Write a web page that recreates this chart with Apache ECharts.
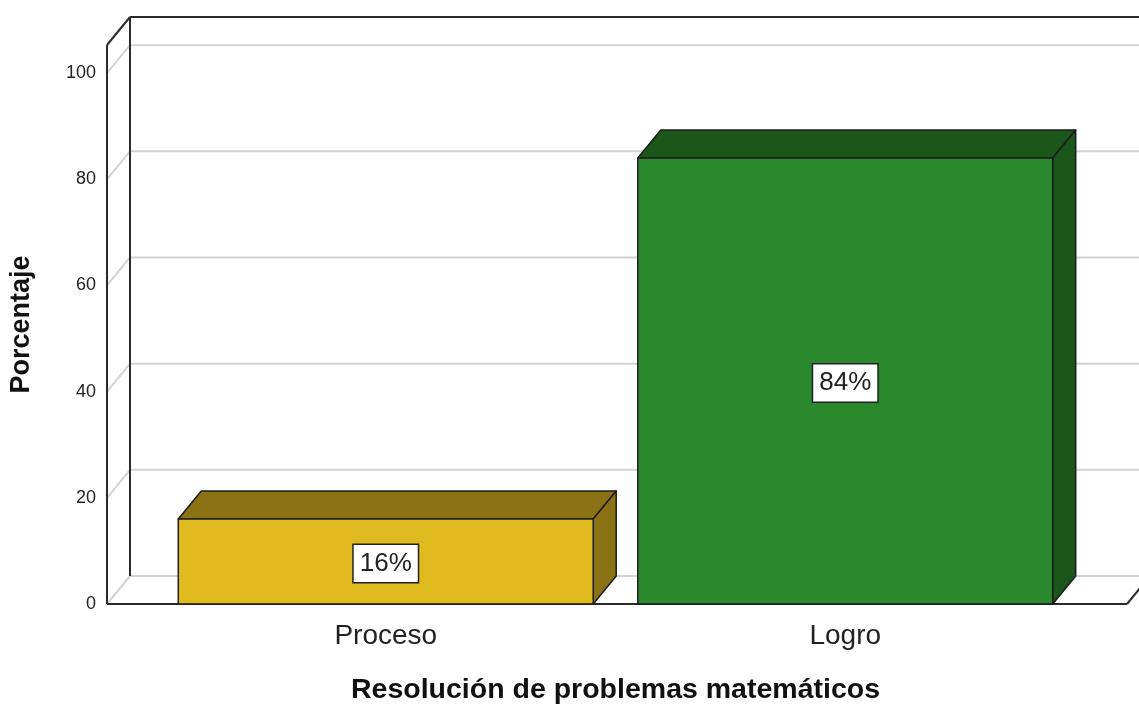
<!DOCTYPE html>
<html>
<head>
<meta charset="utf-8">
<script src="https://cdn.jsdelivr.net/npm/echarts@6/dist/echarts.min.js"></script>
<style>
  html, body { margin: 0; padding: 0; background: #fff; }
  #chart { width: 1139px; height: 704px; }
</style>
</head>
<body>
<div id="chart"></div>
<script>
// Data
const categories = ['Proceso', 'Logro'];
const percentages = [16, 84];
const yTickValues = [0, 20, 40, 60, 80, 100];

// Look
const FONT = '"Liberation Sans", Arial, Helvetica, sans-serif';
const Y_MAX = 105.3;          // top of the walls
const DEPTH_X = 23;           // 3D depth offset (px)
const DEPTH_Y = -28;
const frontColors = ['#e0bb20', '#2a892c'];
const darkColors = ['#8b7315', '#1b561b'];
const EDGE = '#1c1c1c';
const GRID_GRAY = '#d2d2d2';
const FRAME = '#2a2a2a';

const chart = echarts.init(document.getElementById('chart'), null, { renderer: 'canvas' });

// Walls, floor and gridlines of the 3D box
function renderFrame(params, api) {
  const v = api.value(1);
  const pL = api.coord([0, v]);
  const pR = api.coord([1, v]);
  const children = [
    { type: 'line', shape: { x1: pL[0], y1: pL[1], x2: pL[0] + DEPTH_X, y2: pL[1] + DEPTH_Y },
      style: { stroke: GRID_GRAY, lineWidth: 2 } },
    { type: 'line', shape: { x1: pL[0] + DEPTH_X, y1: pL[1] + DEPTH_Y, x2: pR[0] + DEPTH_X + 40, y2: pR[1] + DEPTH_Y },
      style: { stroke: GRID_GRAY, lineWidth: 2 } }
  ];
  if (params.dataIndex === 0) {
    const b0 = api.coord([0, 0]);
    const b1 = api.coord([1, 0]);
    const t0 = api.coord([0, Y_MAX]);
    const t1 = api.coord([1, Y_MAX]);
    const dark = { stroke: FRAME, lineWidth: 2 };
    children.push(
      { type: 'line', z2: 5, shape: { x1: b0[0], y1: b0[1], x2: t0[0], y2: t0[1] }, style: dark },
      { type: 'line', z2: 5, shape: { x1: b0[0] + DEPTH_X, y1: b0[1] + DEPTH_Y, x2: t0[0] + DEPTH_X, y2: t0[1] + DEPTH_Y }, style: dark },
      { type: 'line', z2: 5, shape: { x1: t0[0], y1: t0[1], x2: t0[0] + DEPTH_X, y2: t0[1] + DEPTH_Y }, style: dark },
      { type: 'line', z2: 5, shape: { x1: t0[0] + DEPTH_X, y1: t0[1] + DEPTH_Y, x2: t1[0] + DEPTH_X + 40, y2: t1[1] + DEPTH_Y }, style: dark },
      { type: 'line', z2: 5, shape: { x1: b0[0], y1: b0[1], x2: b1[0], y2: b1[1] }, style: dark },
      { type: 'line', z2: 5, shape: { x1: b1[0], y1: b1[1], x2: b1[0] + DEPTH_X, y2: b1[1] + DEPTH_Y }, style: dark }
    );
  }
  return { type: 'group', children: children };
}

// 3D bars with value labels
function renderBar(params, api) {
  const i = api.value(0);
  const v = api.value(1);
  const base = api.coord([i, 0]);
  const top = api.coord([i, v]);
  const w = api.size([1, 0])[0] * 0.903;
  const x0 = base[0] - w / 2, x1 = base[0] + w / 2;
  const y0 = base[1], y1 = top[1];
  const edge = { stroke: EDGE, lineWidth: 1.5, lineJoin: 'round' };
  return {
    type: 'group',
    children: [
      { type: 'polygon',
        shape: { points: [[x0, y1], [x0 + DEPTH_X, y1 + DEPTH_Y], [x1 + DEPTH_X, y1 + DEPTH_Y], [x1, y1]] },
        style: Object.assign({ fill: darkColors[i] }, edge) },
      { type: 'polygon',
        shape: { points: [[x1, y1], [x1 + DEPTH_X, y1 + DEPTH_Y], [x1 + DEPTH_X, y0 + DEPTH_Y], [x1, y0]] },
        style: Object.assign({ fill: darkColors[i] }, edge) },
      { type: 'rect',
        shape: { x: x0, y: y1, width: w, height: y0 - y1 },
        style: Object.assign({ fill: frontColors[i] }, edge) },
      { type: 'text', z2: 10, x: base[0], y: (y0 + y1) / 2 + 2,
        style: {
          text: v + '%', fontSize: 26, fontFamily: FONT, fill: '#222',
          align: 'center', verticalAlign: 'middle',
          backgroundColor: '#fff', borderColor: '#222', borderWidth: 1.5,
          padding: [6, 6, 5, 6]
        } }
    ]
  };
}

chart.setOption({
  animation: false,
  backgroundColor: '#fff',
  grid: [
    { left: 156, right: 64, top: 45, bottom: 100, outerBoundsMode: 'none', containLabel: false },
    { left: 107, right: 12, top: 45, bottom: 100, outerBoundsMode: 'none', containLabel: false }
  ],
  xAxis: [
    { gridIndex: 0, type: 'category', data: categories,
      axisLine: { show: false }, axisTick: { show: false }, splitLine: { show: false },
      axisLabel: { fontSize: 28, fontFamily: FONT, color: '#222', margin: 18 },
      name: 'Resolución de problemas matemáticos', nameLocation: 'middle', nameGap: 72,
      nameTextStyle: { fontSize: 28.5, fontWeight: 'bold', fontFamily: FONT, color: '#111' } },
    { gridIndex: 1, type: 'value', min: 0, max: 1, show: false }
  ],
  yAxis: [
    { gridIndex: 0, type: 'value', min: 0, max: Y_MAX, show: false },
    { gridIndex: 1, type: 'value', min: 0, max: Y_MAX, interval: 20,
      axisLine: { show: false }, axisTick: { show: false }, splitLine: { show: false },
      axisLabel: { fontSize: 18, fontFamily: FONT, color: '#222', margin: 11, showMaxLabel: false,
        formatter: function (val) { return yTickValues.indexOf(val) >= 0 ? String(val) : ''; } },
      name: 'Porcentaje', nameLocation: 'middle', nameGap: 72,
      nameTextStyle: { fontSize: 27, fontWeight: 'bold', fontFamily: FONT, color: '#111' } }
  ],
  series: [
    { type: 'custom', xAxisIndex: 1, yAxisIndex: 1, z: 1, silent: true,
      data: yTickValues.map(function (v) { return [0, v]; }),
      renderItem: renderFrame },
    { type: 'custom', xAxisIndex: 0, yAxisIndex: 0, z: 3,
      data: categories.map(function (c, i) { return [i, percentages[i]]; }),
      renderItem: renderBar }
  ]
});
</script>
</body>
</html>
